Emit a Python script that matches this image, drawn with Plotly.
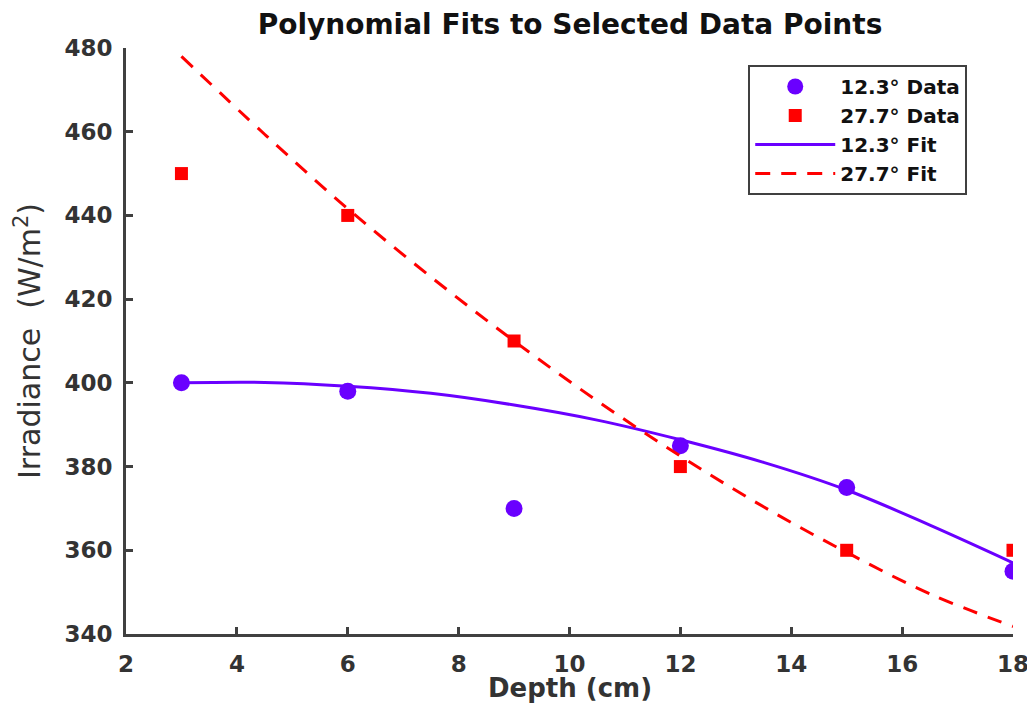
import plotly.graph_objects as go

# Data points
depth = [3, 6, 9, 12, 15, 18]
irr_12 = [400, 398, 370, 385, 375, 355]
irr_27 = [450, 440, 410, 380, 360, 360]

# Fit curves
fit_x = [3, 4.5, 6, 7.5, 9, 10.5, 12, 13.5, 15, 16.5, 18]
fit_12 = [400.0, 400.1, 399.2, 397.5, 394.7, 391.1, 386.4, 381.0, 374.4, 366.0, 357.0]
fit_27 = [478.0, 459.4, 441.6, 425.3, 410.0, 395.7, 382.5, 370.4, 359.5, 349.6, 341.8]

x_ticks = [2, 4, 6, 8, 10, 12, 14, 16, 18]
y_ticks = [340, 360, 380, 400, 420, 440, 460, 480]

PURPLE = "#6a00ff"
RED = "#ff0000"
AXC = "#404040"
FONT = "DejaVu Sans, Liberation Sans, Arial, sans-serif"

fig = go.Figure()
fig.add_trace(go.Scatter(x=depth, y=irr_12, mode="markers", name="<b>12.3° Data</b>",
                         marker=dict(symbol="circle", size=17, color=PURPLE)))
fig.add_trace(go.Scatter(x=depth, y=irr_27, mode="markers", name="<b>27.7° Data</b>",
                         marker=dict(symbol="square", size=13, color=RED)))
fig.add_trace(go.Scatter(x=fit_x, y=fit_12, mode="lines", name="<b>12.3° Fit</b>",
                         line=dict(color=PURPLE, width=3, shape="spline")))
fig.add_trace(go.Scatter(x=fit_x, y=fit_27, mode="lines", name="<b>27.7° Fit</b>",
                         line=dict(color=RED, width=3, dash="15px,11px", shape="spline")))

fig.update_layout(
    width=1027, height=698,
    paper_bgcolor="white", plot_bgcolor="white",
    margin=dict(l=118, r=22, t=40, b=72, autoexpand=False),
    font=dict(family=FONT, color="#333333"),
    title=dict(text="<b>Polynomial Fits to Selected Data Points</b>",
               x=562 / 1027, xanchor="center", y=1 - 16 / 698, yanchor="middle",
               font=dict(size=28, color="#111111", family=FONT)),
    legend=dict(x=0.7015, y=0.971, xanchor="left", yanchor="top",
                bgcolor="white", bordercolor=AXC, borderwidth=2,
                font=dict(size=20, color="#111111", family=FONT),
                tracegroupgap=0, itemwidth=80),
    showlegend=True,
    annotations=[dict(text="<b>Depth (cm)</b>", xref="paper", yref="paper",
                      x=0.5, y=0, xanchor="center", yanchor="middle", yshift=-54,
                      showarrow=False, font=dict(size=26, color="#333333", family=FONT))],
)
fig.update_xaxes(range=[2, 18], tickvals=x_ticks, ticktext=[f"<b>{v}</b>" for v in x_ticks],
                 showgrid=False, zeroline=False, showline=True, linecolor=AXC, linewidth=3,
                 ticks="inside", ticklen=7, tickwidth=2.5, tickcolor=AXC, automargin=False,
                 ticklabeloverflow="allow", ticklabelstandoff=7,
                 tickfont=dict(size=23, color="#333333"))
fig.update_yaxes(range=[340, 480], tickvals=y_ticks, ticktext=[f"<b>{v}</b>" for v in y_ticks],
                 showgrid=False, zeroline=False, showline=True, linecolor=AXC, linewidth=3,
                 ticks="inside", ticklen=7, tickwidth=2.5, tickcolor=AXC, automargin=False,
                 ticklabeloverflow="allow", ticklabelstandoff=6,
                 tickfont=dict(size=23, color="#333333"),
                 title=dict(text="Irradiance  (W/m<sup>2</sup>)", font=dict(size=30, color="#333333")))

fig.write_html("out.html")
